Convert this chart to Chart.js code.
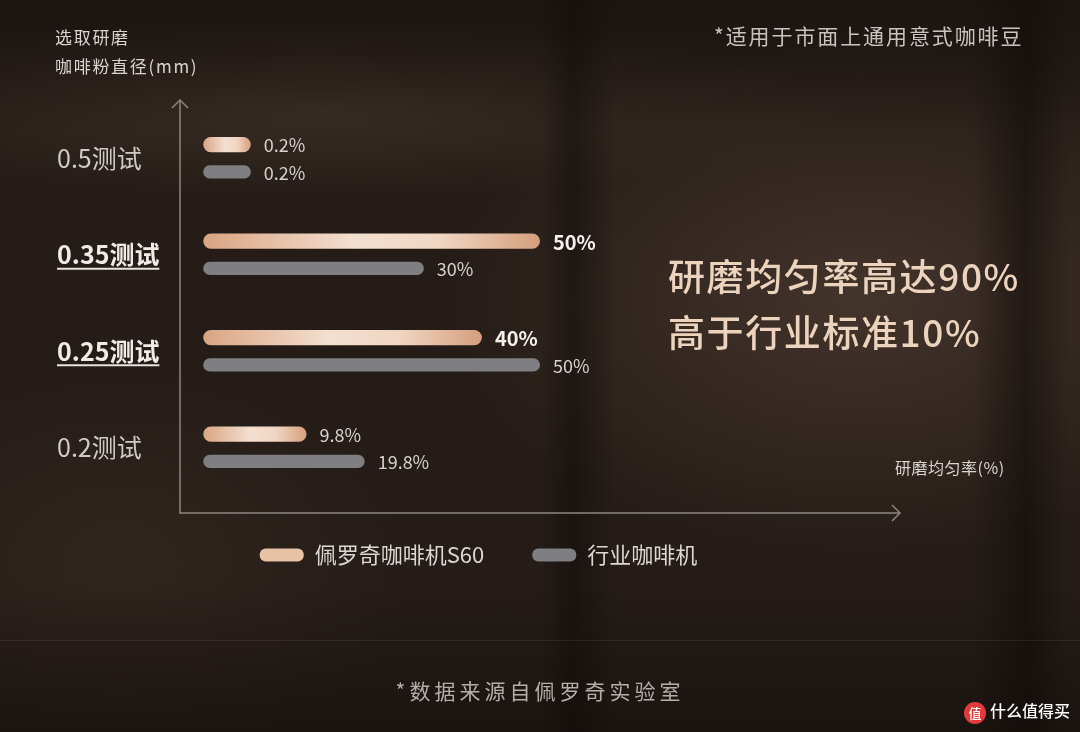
<!DOCTYPE html>
<html>
<head>
<meta charset="utf-8">
<script src="https://cdn.jsdelivr.net/npm/chart.js@4"></script>
<style>
  html, body { margin: 0; padding: 0; }
  body {
    width: 1080px; height: 732px; overflow: hidden; position: relative;
    font-family: "Noto Sans CJK SC", "Noto Sans", sans-serif;
    background:
      linear-gradient(180deg, rgba(20,14,11,0.55) 0%, rgba(20,14,11,0) 18%, rgba(20,14,11,0) 80%, rgba(16,11,9,0.5) 100%),
      linear-gradient(90deg, rgba(0,0,0,0) 0%, rgba(0,0,0,0) 50%, rgba(12,8,6,0.45) 53%, rgba(0,0,0,0) 57%, rgba(0,0,0,0) 90%, rgba(12,8,6,0.5) 95%, rgba(0,0,0,0) 99%),
      radial-gradient(ellipse 420px 260px at 860px 300px, #43342b 0%, rgba(67,52,43,0) 100%),
      radial-gradient(ellipse 520px 90px at 320px 110px, rgba(70,56,46,0.6) 0%, rgba(70,56,46,0) 100%),
      radial-gradient(ellipse 300px 200px at 120px 560px, rgba(60,46,38,0.5) 0%, rgba(60,46,38,0) 100%),
      #251c17;
  }
  #wrap { position: absolute; left: 0; top: 0; width: 1080px; height: 732px; }
  .txt { position: absolute; white-space: nowrap; }
  #axisTitle { left: 55px; top: 22px; font-size: 17px; line-height: 29px; color: #d9d4cf; letter-spacing: 1.7px; }
  #note { left: 714px; top: 20px; font-size: 21px; color: #c9c3be; letter-spacing: 1.9px; }
  #callout { left: 668px; top: 247px; font-size: 37px; line-height: 56px; color: #ebd3be; font-weight: 500; letter-spacing: 1.6px; }
  #xTitle { left: 895px; top: 455px; font-size: 16px; color: #d9d4cf; letter-spacing: 0.5px; }
  #source { left: 0; width: 1080px; text-align: center; top: 675px; font-size: 21px; color: #b4aeaa; letter-spacing: 4px; }
  #sep { position: absolute; left: 0; top: 640px; width: 1080px; height: 1px; background: rgba(255,255,255,0.07); }
  #mark { right: 10px; top: 698px; font-size: 16px; color: #ffffff; font-weight: 500; }
  #mark span { display: inline-block; width: 22px; height: 22px; border-radius: 50%; background: #e23a3a; color: #fff; text-align: center; line-height: 22px; font-size: 13px; margin-right: 4px; vertical-align: middle; }
</style>
</head>
<body>
<div id="sep"></div>
<div id="wrap"><canvas id="chart" width="1080" height="732"></canvas></div>
<div class="txt" id="axisTitle">选取研磨<br>咖啡粉直径(mm)</div>
<div class="txt" id="note">*适用于市面上通用意式咖啡豆</div>
<div class="txt" id="callout">研磨均匀率高达90%<br>高于行业标准10%</div>
<div class="txt" id="xTitle">研磨均匀率(%)</div>
<div class="txt" id="source">*数据来源自佩罗奇实验室</div>
<div class="txt" id="mark"><span>值</span>什么值得买</div>
<script>
// grind size categories, top to bottom
const categories = ['0.5测试', '0.35测试', '0.25测试', '0.2测试'];
const seriesNames = ['佩罗奇咖啡机S60', '行业咖啡机'];
const s60Values = [0.2, 50, 40, 9.8];
const industryValues = [0.2, 30, 50, 19.8];

// rows drawn bold + underlined in the original
const emphasised = ['0.35测试', '0.25测试'];

const FONT = '"Noto Sans CJK SC", "Noto Sans", sans-serif';
const BAR_BASE = -8;
const PEACH_FLAT = '#e8c2a4';
const GREY = '#7f7e80';

function peachFill(c) {
  const chart = c.chart;
  const x = chart.scales.x;
  if (!chart.chartArea || !x || typeof c.raw !== 'number') return PEACH_FLAT;
  const x0 = x.getPixelForValue(BAR_BASE);
  const x1 = x.getPixelForValue(c.raw);
  if (!isFinite(x0) || !isFinite(x1)) return PEACH_FLAT;
  const g = chart.ctx.createLinearGradient(x0, 0, x1, 0);
  g.addColorStop(0, '#d9a582');
  g.addColorStop(0.45, '#f3dfd0');
  g.addColorStop(0.7, '#f0d6c3');
  g.addColorStop(1, '#d59f7d');
  return g;
}

const axesPlugin = {
  id: 'axes',
  beforeDatasetsDraw(chart) {
    const {ctx, chartArea: a} = chart;
    const top = a.top - 10, bottom = a.bottom + 17;
    ctx.save();
    ctx.strokeStyle = '#8c8681';
    ctx.lineWidth = 1.5;
    ctx.beginPath();
    ctx.moveTo(a.left, top); ctx.lineTo(a.left, bottom); ctx.lineTo(a.right, bottom);
    ctx.stroke();
    ctx.beginPath();
    ctx.moveTo(a.left - 8, top + 8); ctx.lineTo(a.left, top); ctx.lineTo(a.left + 8, top + 8);
    ctx.moveTo(a.right - 8, bottom - 8); ctx.lineTo(a.right, bottom); ctx.lineTo(a.right - 8, bottom + 8);
    ctx.stroke();
    ctx.restore();
  },
  afterDraw(chart) {
    // underline emphasised tick labels
    const {ctx} = chart;
    const y = chart.scales.y;
    ctx.save();
    ctx.font = `700 25px ${FONT}`;
    ctx.strokeStyle = '#e6e2de';
    ctx.lineWidth = 2;
    categories.forEach((cat, i) => {
      if (!emphasised.includes(cat)) return;
      const py = y.getPixelForValue(i) + 14;
      const w = ctx.measureText(cat).width;
      ctx.beginPath();
      ctx.moveTo(y.left, py); ctx.lineTo(y.left + w, py);
      ctx.stroke();
    });
    ctx.restore();
  }
};

const valueLabels = {
  id: 'valueLabels',
  afterDatasetsDraw(chart) {
    const {ctx} = chart;
    ctx.save();
    ctx.textBaseline = 'middle';
    ctx.textAlign = 'left';
    chart.data.datasets.forEach((ds, di) => {
      chart.getDatasetMeta(di).data.forEach((el, i) => {
        const strong = di === 0 && emphasised.includes(categories[i]);
        ctx.font = strong ? `700 20px ${FONT}` : `400 18px ${FONT}`;
        ctx.fillStyle = strong ? '#f4f1ee' : '#d6d1cd';
        ctx.fillText(ds.data[i] + '%', el.x + 13, el.y + 1);
      });
    });
    ctx.restore();
  }
};

new Chart(document.getElementById('chart'), {
  type: 'bar',
  data: {
    labels: categories,
    datasets: [
      {
        label: seriesNames[0],
        data: s60Values,
        base: BAR_BASE,
        backgroundColor: peachFill,
        borderRadius: 8,
        borderSkipped: false,
        categoryPercentage: 0.565,
        barPercentage: 0.56,
      },
      {
        label: seriesNames[1],
        data: industryValues,
        base: BAR_BASE,
        backgroundColor: GREY,
        borderRadius: 7,
        borderSkipped: false,
        categoryPercentage: 0.565,
        barPercentage: 0.48,
      },
    ],
  },
  options: {
    indexAxis: 'y',
    responsive: false,
    animation: false,
    layout: { padding: { left: 57, right: 180, top: 110, bottom: 156 } },
    scales: {
      x: { type: 'linear', min: -12, max: 112, display: false },
      y: {
        grid: { display: false },
        border: { display: false },
        afterFit(scale) { scale.width = 123; },
        ticks: {
          crossAlign: 'far',
          color: (c) => emphasised.includes(categories[c.index]) ? '#eeebe8' : '#cfcac6',
          font: (c) => ({
            family: FONT,
            size: 25,
            weight: emphasised.includes(categories[c.index]) ? '700' : '400',
          }),
        },
      },
    },
    plugins: {
      tooltip: { enabled: false },
      legend: {
        position: 'bottom',
        labels: {
          boxWidth: 44,
          boxHeight: 13,
          useBorderRadius: true,
          borderRadius: 6,
          padding: 48,
          color: '#dcd7d3',
          font: { family: FONT, size: 22 },
          generateLabels(chart) {
            return chart.data.datasets.map((ds, i) => ({
              text: ds.label,
              fillStyle: i === 0 ? PEACH_FLAT : GREY,
              strokeStyle: 'rgba(0,0,0,0)',
              lineWidth: 0,
              borderRadius: 6,
              fontColor: '#dcd7d3',
              datasetIndex: i,
            }));
          },
        },
      },
    },
  },
  plugins: [axesPlugin, valueLabels],
});
</script>
</body>
</html>
